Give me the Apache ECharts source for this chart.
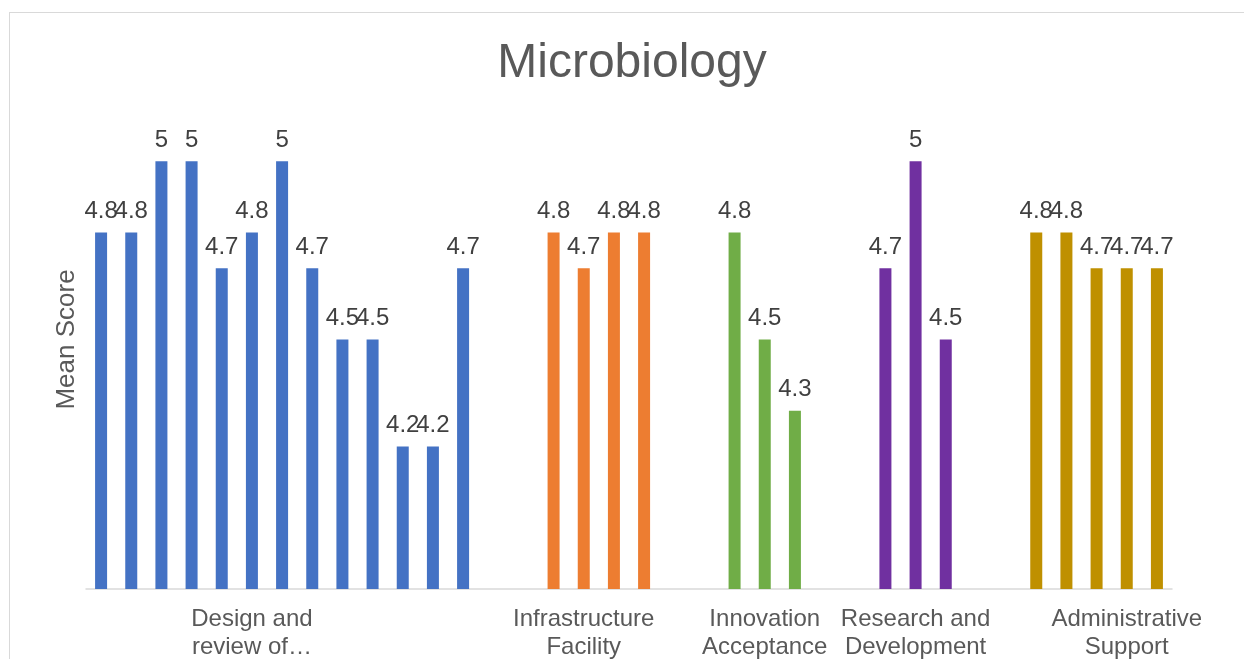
<!DOCTYPE html>
<html>
<head>
<meta charset="utf-8">
<script src="https://cdn.jsdelivr.net/npm/echarts@6/dist/echarts.min.js"></script>
<style>
html,body{margin:0;padding:0;background:#fff;}
#wrap{position:absolute;left:0;top:0;width:1244px;height:659px;}
#frame{position:absolute;left:9px;top:12px;width:1240px;height:660px;border-left:1px solid #d9d9d9;border-top:1px solid #d9d9d9;}
#chart{position:absolute;left:0;top:0;width:1244px;height:659px;}
</style>
</head>
<body>
<div id="wrap"><div id="frame"></div><div id="chart"></div></div>
<script>
// Group names (x-axis labels) and mean scores per group
const groupNames = ["Design and\nreview of…", "Infrastructure\nFacility", "Innovation\nAcceptance", "Research and\nDevelopment", "Administrative\nSupport"];
const designValues = [4.8, 4.8, 5, 5, 4.7, 4.8, 5, 4.7, 4.5, 4.5, 4.2, 4.2, 4.7];
const infrastructureValues = [4.8, 4.7, 4.8, 4.8];
const innovationValues = [4.8, 4.5, 4.3];
const researchValues = [4.7, 5, 4.5];
const adminValues = [4.8, 4.8, 4.7, 4.7, 4.7];
const groupColors = ["#4472C4", "#ED7D31", "#70AD47", "#7030A0", "#BF9000"];
// slot index (within each group's span) where the group label is shown
const labelSlotInGroup = [5, 1, 1, 1, 3];
const gapSlots = 2;

const groups = [designValues, infrastructureValues, innovationValues, researchValues, adminValues];
const categories = [];
const data = [];
groups.forEach((vals, g) => {
  if (g > 0) {
    for (let k = 0; k < gapSlots; k++) { categories.push(""); data.push(null); }
  }
  vals.forEach((v, i) => {
    categories.push(i === labelSlotInGroup[g] ? groupNames[g] : "");
    data.push({ value: v, itemStyle: { color: groupColors[g] } });
  });
});

const chart = echarts.init(document.getElementById('chart'));
chart.setOption({
  animation: false,
  backgroundColor: 'transparent',
  title: {
    text: 'Microbiology',
    left: 627,
    textAlign: 'center',
    top: 35,
    textStyle: { fontFamily: 'Liberation Sans', fontSize: 48, fontWeight: 'normal', color: '#595959' }
  },
  grid: { left: 86, right: 72, top: 90, bottom: 70, containLabel: false, outerBoundsMode: 'none' },
  xAxis: {
    type: 'category',
    data: categories,
    axisLine: { show: true, lineStyle: { color: '#d9d9d9', width: 1.5 } },
    axisTick: { show: false },
    axisLabel: {
      interval: 0,
      margin: 16,
      fontFamily: 'Liberation Sans',
      fontSize: 24,
      lineHeight: 28,
      color: '#595959',
      align: 'center'
    }
  },
  yAxis: {
    type: 'value',
    min: 3.8,
    max: 5.2,
    name: 'Mean Score',
    nameLocation: 'middle',
    nameGap: 6,
    nameTextStyle: { fontFamily: 'Liberation Sans', fontSize: 26, color: '#595959' },
    axisLine: { show: false },
    axisTick: { show: false },
    axisLabel: { show: false },
    splitLine: { show: false }
  },
  series: [{
    type: 'bar',
    data: data,
    barWidth: 12,
    label: {
      show: true,
      position: 'top',
      distance: 9,
      fontFamily: 'Liberation Sans',
      fontSize: 24,
      color: '#404040'
    }
  }]
});
</script>
</body>
</html>
